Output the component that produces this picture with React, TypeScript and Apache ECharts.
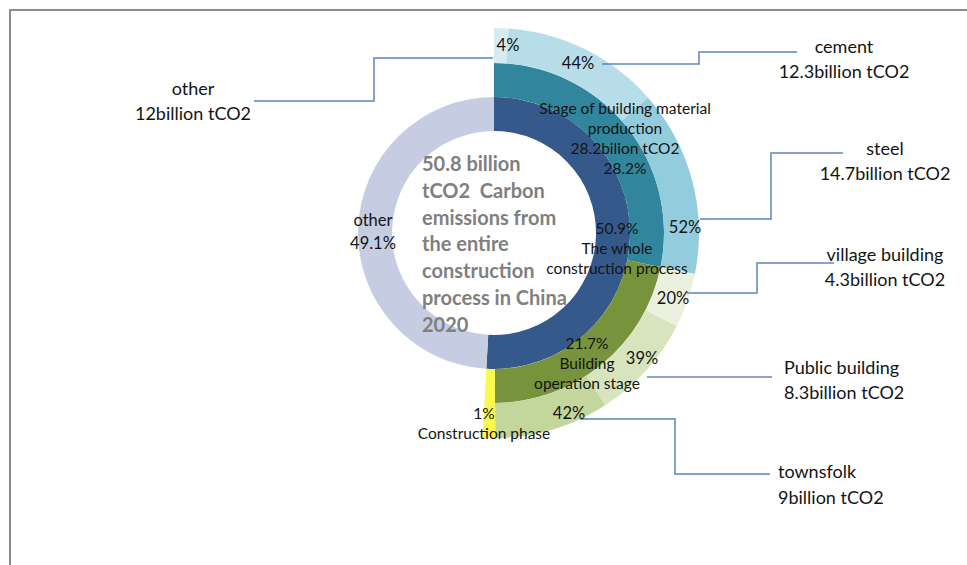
import React, { useEffect, useRef } from "react";
import * as echarts from "echarts";

// ---- data ----
const totalEmission = 50.8;
const reportYear = 2020;
const innerNames = ["The whole construction process", "other"];
const innerValues = [50.9, 49.1];
const stageNames = ["Stage of building material production", "Building operation stage", "Construction phase"];
const stageValues = [28.2, 21.7, 1];
const stageEmission = 28.2;
const materialNames = ["other", "cement", "steel"];
const materialShares = [4, 44, 52];
const materialEmissions = [12, 12.3, 14.7];
const buildingNames = ["village building", "Public building", "townsfolk"];
const buildingShares = [20, 39, 42];
const buildingEmissions = [4.3, 8.3, 9];

// ---- styles ----
const FONT = "Lato, 'Open Sans', 'DejaVu Sans', sans-serif";
const TXT = "#141414";
const LEADER = "#5b86c2";
const innerColors = ["#36598b", "#c6cde3"];
const stageColors = ["#31859c", "#77933c", "#f9f950"];
const materialColors = ["#d6ecf2", "#b7dde8", "#93cddd"];
const buildingColors = ["#ebf1de", "#d7e4bd", "#c3d69b"];
const CENTER: [number, number] = [494, 233];
const CLEAR = "rgba(0,0,0,0)";

const sum = (a: number[]) => a.reduce((s, v) => s + v, 0);

function text(t: string, x: number, y: number, opts: any = {}) {
  const align = opts.align || "center";
  const vAlign = opts.vAlign || "middle";
  return {
    type: "text",
    x,
    y,
    silent: true,
    z: 10,
    style: {
      text: t,
      fill: opts.color || TXT,
      fontSize: opts.size || 15.5,
      fontFamily: FONT,
      fontWeight: opts.weight || "normal",
      lineHeight: opts.lh || 20,
      align,
      verticalAlign: vAlign,
      textAlign: align,
      textVerticalAlign: vAlign,
    },
  };
}

function leader(points: number[][]) {
  return {
    type: "polyline",
    silent: true,
    z: 9,
    shape: { points },
    style: { stroke: LEADER, lineWidth: 1.5, fill: "none" },
  };
}

export default function App() {
  const ref = useRef<HTMLDivElement>(null);
  useEffect(() => {
    if (!ref.current) return;
    const chart = echarts.init(ref.current, undefined, { renderer: "svg" });

    const common = {
      type: "pie",
      center: CENTER,
      startAngle: 90,
      clockwise: true,
      silent: true,
      avoidLabelOverlap: false,
      label: { show: false },
      labelLine: { show: false },
      emphasis: { disabled: true },
      itemStyle: { borderWidth: 0 },
    };

    const matSum = sum(materialShares);
    const bldSum = sum(buildingShares);

    const innerData = innerNames.map((n, i) => ({ name: n, value: innerValues[i], itemStyle: { color: innerColors[i] } }));
    const stageData = [
      ...stageNames.map((n, i) => ({ name: n, value: stageValues[i], itemStyle: { color: stageColors[i] } })),
      { name: "gap", value: innerValues[1], itemStyle: { color: CLEAR } },
    ];
    const outerData = [
      ...materialNames.map((n, i) => ({
        name: n,
        value: (stageValues[0] * materialShares[i]) / matSum,
        itemStyle: { color: materialColors[i] },
      })),
      ...buildingNames.map((n, i) => ({
        name: n,
        value: (stageValues[1] * buildingShares[i]) / bldSum,
        itemStyle: { color: buildingColors[i] },
      })),
      { name: stageNames[2], value: stageValues[2], itemStyle: { color: stageColors[2] } },
      { name: "gap", value: innerValues[1], itemStyle: { color: CLEAR } },
    ];

    const graphics: any[] = [
      {
        type: "rect",
        silent: true,
        shape: { x: 10, y: 10, width: 1200, height: 800 },
        style: { fill: "none", stroke: "#8c8c8c", lineWidth: 2 },
      },
      // center title
      text(
        `${totalEmission} billion\ntCO2  Carbon\nemissions from\nthe entire\nconstruction\nprocess in China\n${reportYear}`,
        422,
        150,
        { align: "left", vAlign: "top", size: 20, weight: "bold", color: "#7f7f7f", lh: 26.7 }
      ),
      // inner ring labels
      text(`${innerNames[1]}\n${innerValues[1]}%`, 373, 231, { size: 16.5, lh: 23 }),
      text(`${innerValues[0]}%\nThe whole\nconstruction process`, 617, 248, { lh: 20 }),
      // stage labels
      text(`Stage of building material\nproduction\n${stageEmission}bilion tCO2\n${stageValues[0]}%`, 625, 138, { lh: 20.3 }),
      text(`${stageValues[1]}%\nBuilding\noperation stage`, 587, 363, { lh: 20 }),
      text(`${stageValues[2]}%\n${stageNames[2]}`, 484, 423, { lh: 20 }),
      // outer percentages
      text(`${materialShares[0]}%`, 508, 45, { size: 16.5 }),
      text(`${materialShares[1]}%`, 578, 63, { size: 16.5 }),
      text(`${materialShares[2]}%`, 685, 227, { size: 16.5 }),
      text(`${buildingShares[0]}%`, 673, 298, { size: 16.5 }),
      text(`${buildingShares[1]}%`, 642, 358, { size: 16.5 }),
      text(`${buildingShares[2]}%`, 569, 413, { size: 16.5 }),
      // leader lines
      leader([[254, 101], [374, 101], [374, 58], [493, 58]]),
      leader([[602, 64], [699, 64], [699, 52], [797, 52]]),
      leader([[700, 219], [771, 219], [771, 153], [843, 153]]),
      leader([[687, 293], [757, 293], [757, 263], [834, 263]]),
      leader([[647, 377], [772, 377]]),
      leader([[580, 419], [675, 419], [675, 474], [770, 474]]),
      // external labels
      text(`${materialNames[0]}\n${materialEmissions[0]}billion tCO2`, 193, 100, { size: 18, lh: 25 }),
      text(`${materialNames[1]}\n${materialEmissions[1]}billion tCO2`, 844, 58, { size: 18, lh: 25 }),
      text(`${materialNames[2]}\n${materialEmissions[2]}billion tCO2`, 885, 160, { size: 18, lh: 25 }),
      text(`${buildingNames[0]}\n${buildingEmissions[0]}billion tCO2`, 885, 266, { size: 18, lh: 25 }),
      text(`${buildingNames[1]}\n${buildingEmissions[1]}billion tCO2`, 784, 379, { size: 18, lh: 25, align: "left" }),
      text(`${buildingNames[2]}\n${buildingEmissions[2]}billion tCO2`, 778, 484, { size: 18, lh: 26, align: "left" }),
    ];

    chart.setOption({
      animation: false,
      backgroundColor: "#ffffff",
      series: [
        { ...common, name: "whole", radius: [102, 136], data: innerData },
        { ...common, name: "stage", radius: [136, 170], data: stageData },
        { ...common, name: "detail", radius: [170, 205], data: outerData },
      ],
      graphic: { elements: graphics },
    });

    return () => chart.dispose();
  }, []);

  return (
    <div
      ref={ref}
      style={{ position: "fixed", left: 0, top: 0, width: 967, height: 565, background: "#fff" }}
    />
  );
}
